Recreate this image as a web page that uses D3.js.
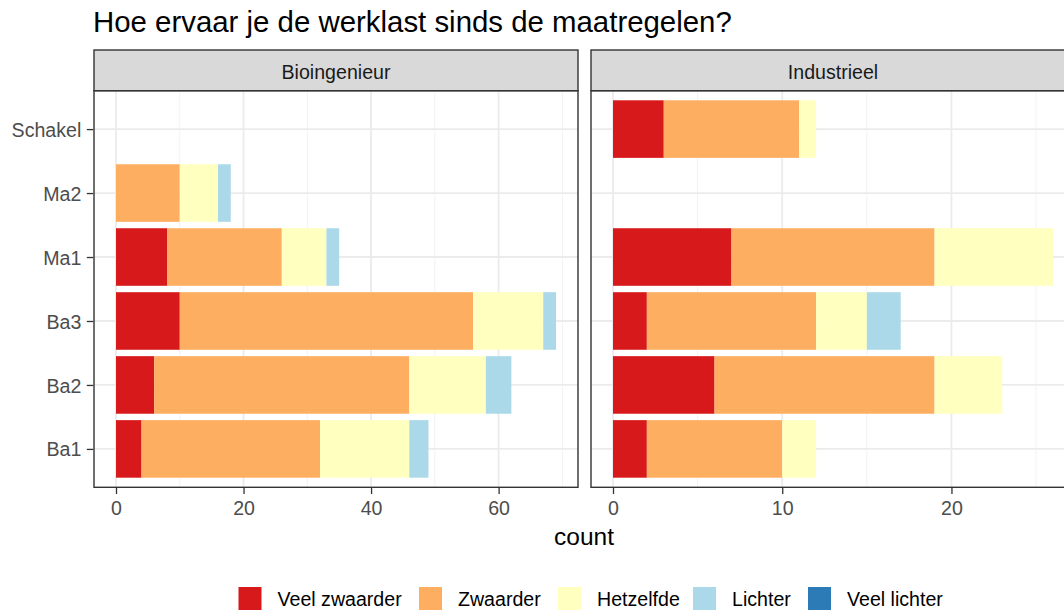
<!DOCTYPE html>
<html>
<head>
<meta charset="utf-8">
<script src="https://cdn.jsdelivr.net/npm/d3@7"></script>
<style>
  body { margin: 0; background: #fff; }
  svg { font-family: "Liberation Sans", Arial, sans-serif; }
</style>
</head>
<body>
<svg id="chart" width="1064" height="612"></svg>
<script>
// data
var answers = ["Veel zwaarder", "Zwaarder", "Hetzelfde", "Lichter", "Veel lichter"];
var colors = ["#D7191C", "#FDAE61", "#FFFFBF", "#ABD9E9", "#2C7BB6"];
var years = ["Ba1", "Ba2", "Ba3", "Ma1", "Ma2", "Schakel"];
var programs = ["Bioingenieur", "Industrieel"];

// counts per year, in the order of answers
var bioCounts = {
  Ba1: [4, 28, 14, 3, 0],
  Ba2: [6, 40, 12, 4, 0],
  Ba3: [10, 46, 11, 2, 0],
  Ma1: [8, 18, 7, 2, 0],
  Ma2: [0, 10, 6, 2, 0],
  Schakel: [0, 0, 0, 0, 0]
};
var indCounts = {
  Ba1: [2, 8, 2, 0, 0],
  Ba2: [6, 13, 4, 0, 0],
  Ba3: [2, 10, 3, 2, 0],
  Ma1: [7, 12, 7, 0, 0],
  Ma2: [0, 0, 0, 0, 0],
  Schakel: [3, 8, 1, 0, 0]
};
var bioTicks = [0, 20, 40, 60];
var bioMinor = [10, 30, 50, 70];
var indTicks = [0, 10, 20];
var indMinor = [5, 15, 25];

var svg = d3.select("#chart");

var panelTop = 90.7, panelBottom = 487.3, stripTop = 50;
var panelW = 484;
var small = 19.6;
var panels = [
  { name: programs[0], left: 94, counts: bioCounts, ticks: bioTicks, minor: bioMinor },
  { name: programs[1], left: 591, counts: indCounts, ticks: indTicks, minor: indMinor }
];

// title
svg.append("text")
  .attr("x", 93).attr("y", 31.5)
  .attr("font-size", 29.4)
  .attr("fill", "#000")
  .text("Hoe ervaar je de werklast sinds de maatregelen?");

// discrete y scale with ggplot expansion of 0.6
var y = d3.scaleLinear()
  .domain([0.4, years.length + 0.6])
  .range([panelBottom, panelTop]);
var barH = (y(0) - y(0.9));

panels.forEach(function(p, pi) {
  // stacking
  var rows = years.map(function(yr) {
    var c = p.counts[yr], start = 0;
    return c.map(function(v, i) {
      var seg = { year: yr, answer: answers[i], x0: start, x1: start + v };
      start += v;
      return seg;
    });
  });
  var maxTotal = d3.max(years, function(yr) { return d3.sum(p.counts[yr]); });

  var x = d3.scaleLinear()
    .domain([-0.05 * maxTotal, 1.05 * maxTotal])
    .range([p.left, p.left + panelW]);

  var g = svg.append("g");

  g.append("rect")
    .attr("x", p.left).attr("y", panelTop)
    .attr("width", panelW).attr("height", panelBottom - panelTop)
    .attr("fill", "#fff");

  // minor grid
  g.selectAll(".minor").data(p.minor).enter().append("line")
    .attr("x1", function(d) { return x(d); }).attr("x2", function(d) { return x(d); })
    .attr("y1", panelTop).attr("y2", panelBottom)
    .attr("stroke", "#F2F2F2").attr("stroke-width", 1);

  // major grid
  g.selectAll(".majorx").data(p.ticks).enter().append("line")
    .attr("x1", function(d) { return x(d); }).attr("x2", function(d) { return x(d); })
    .attr("y1", panelTop).attr("y2", panelBottom)
    .attr("stroke", "#EBEBEB").attr("stroke-width", 1.8);
  g.selectAll(".majory").data(years).enter().append("line")
    .attr("x1", p.left).attr("x2", p.left + panelW)
    .attr("y1", function(d, i) { return y(i + 1); }).attr("y2", function(d, i) { return y(i + 1); })
    .attr("stroke", "#EBEBEB").attr("stroke-width", 1.8);

  // bars
  rows.forEach(function(segs, ri) {
    g.selectAll(null).data(segs.filter(function(s) { return s.x1 > s.x0; }))
      .enter().append("rect")
      .attr("x", function(d) { return x(d.x0); })
      .attr("width", function(d) { return x(d.x1) - x(d.x0); })
      .attr("y", y(ri + 1) - barH / 2)
      .attr("height", barH)
      .attr("fill", function(d) { return colors[answers.indexOf(d.answer)]; });
  });

  // panel border
  g.append("rect")
    .attr("x", p.left).attr("y", panelTop)
    .attr("width", panelW).attr("height", panelBottom - panelTop)
    .attr("fill", "none").attr("stroke", "#333333").attr("stroke-width", 1.4);

  // strip
  g.append("rect")
    .attr("x", p.left).attr("y", stripTop)
    .attr("width", panelW).attr("height", panelTop - stripTop)
    .attr("fill", "#D9D9D9").attr("stroke", "#333333").attr("stroke-width", 1.4);
  g.append("text")
    .attr("x", p.left + panelW / 2).attr("y", 79.3)
    .attr("text-anchor", "middle")
    .attr("font-size", small).attr("fill", "#1A1A1A")
    .text(p.name);

  // x axis
  var xAxis = d3.axisBottom(x).tickValues(p.ticks).tickSize(6);
  var ax = svg.append("g")
    .attr("transform", "translate(0," + (panelBottom + 0.7) + ")")
    .call(xAxis);
  ax.select(".domain").remove();
  ax.selectAll(".tick line").attr("stroke", "#333333").attr("stroke-width", 1.3);
  ax.selectAll(".tick text")
    .attr("y", 27).attr("dy", null)
    .attr("fill", "#4D4D4D").attr("font-size", small)
    .attr("font-family", "Liberation Sans, Arial, sans-serif");

  // y axis only on the first panel
  if (pi === 0) {
    var yAxis = d3.axisLeft(y).tickValues(d3.range(1, years.length + 1))
      .tickFormat(function(d) { return years[d - 1]; })
      .tickSize(6.5).tickPadding(5.5);
    var ay = svg.append("g")
      .attr("transform", "translate(" + (p.left - 0.7) + ",0)")
      .call(yAxis);
    ay.select(".domain").remove();
    ay.selectAll(".tick line").attr("stroke", "#333333").attr("stroke-width", 1.3);
    ay.selectAll(".tick text")
      .attr("dy", "0.36em")
      .attr("fill", "#4D4D4D").attr("font-size", small)
      .attr("font-family", "Liberation Sans, Arial, sans-serif");
  }
});

// x axis title
svg.append("text")
  .attr("x", 584).attr("y", 545)
  .attr("text-anchor", "middle")
  .attr("font-size", 24.5).attr("fill", "#000")
  .text("count");

// legend
var legendX = [238.5, 419, 558, 693, 808];
var leg = svg.append("g");
answers.forEach(function(a, i) {
  leg.append("rect")
    .attr("x", legendX[i]).attr("y", 587)
    .attr("width", 23).attr("height", 23)
    .attr("fill", colors[i]);
  leg.append("text")
    .attr("x", legendX[i] + 39).attr("y", 605.7)
    .attr("font-size", small).attr("fill", "#000")
    .text(a);
});
</script>
</body>
</html>
